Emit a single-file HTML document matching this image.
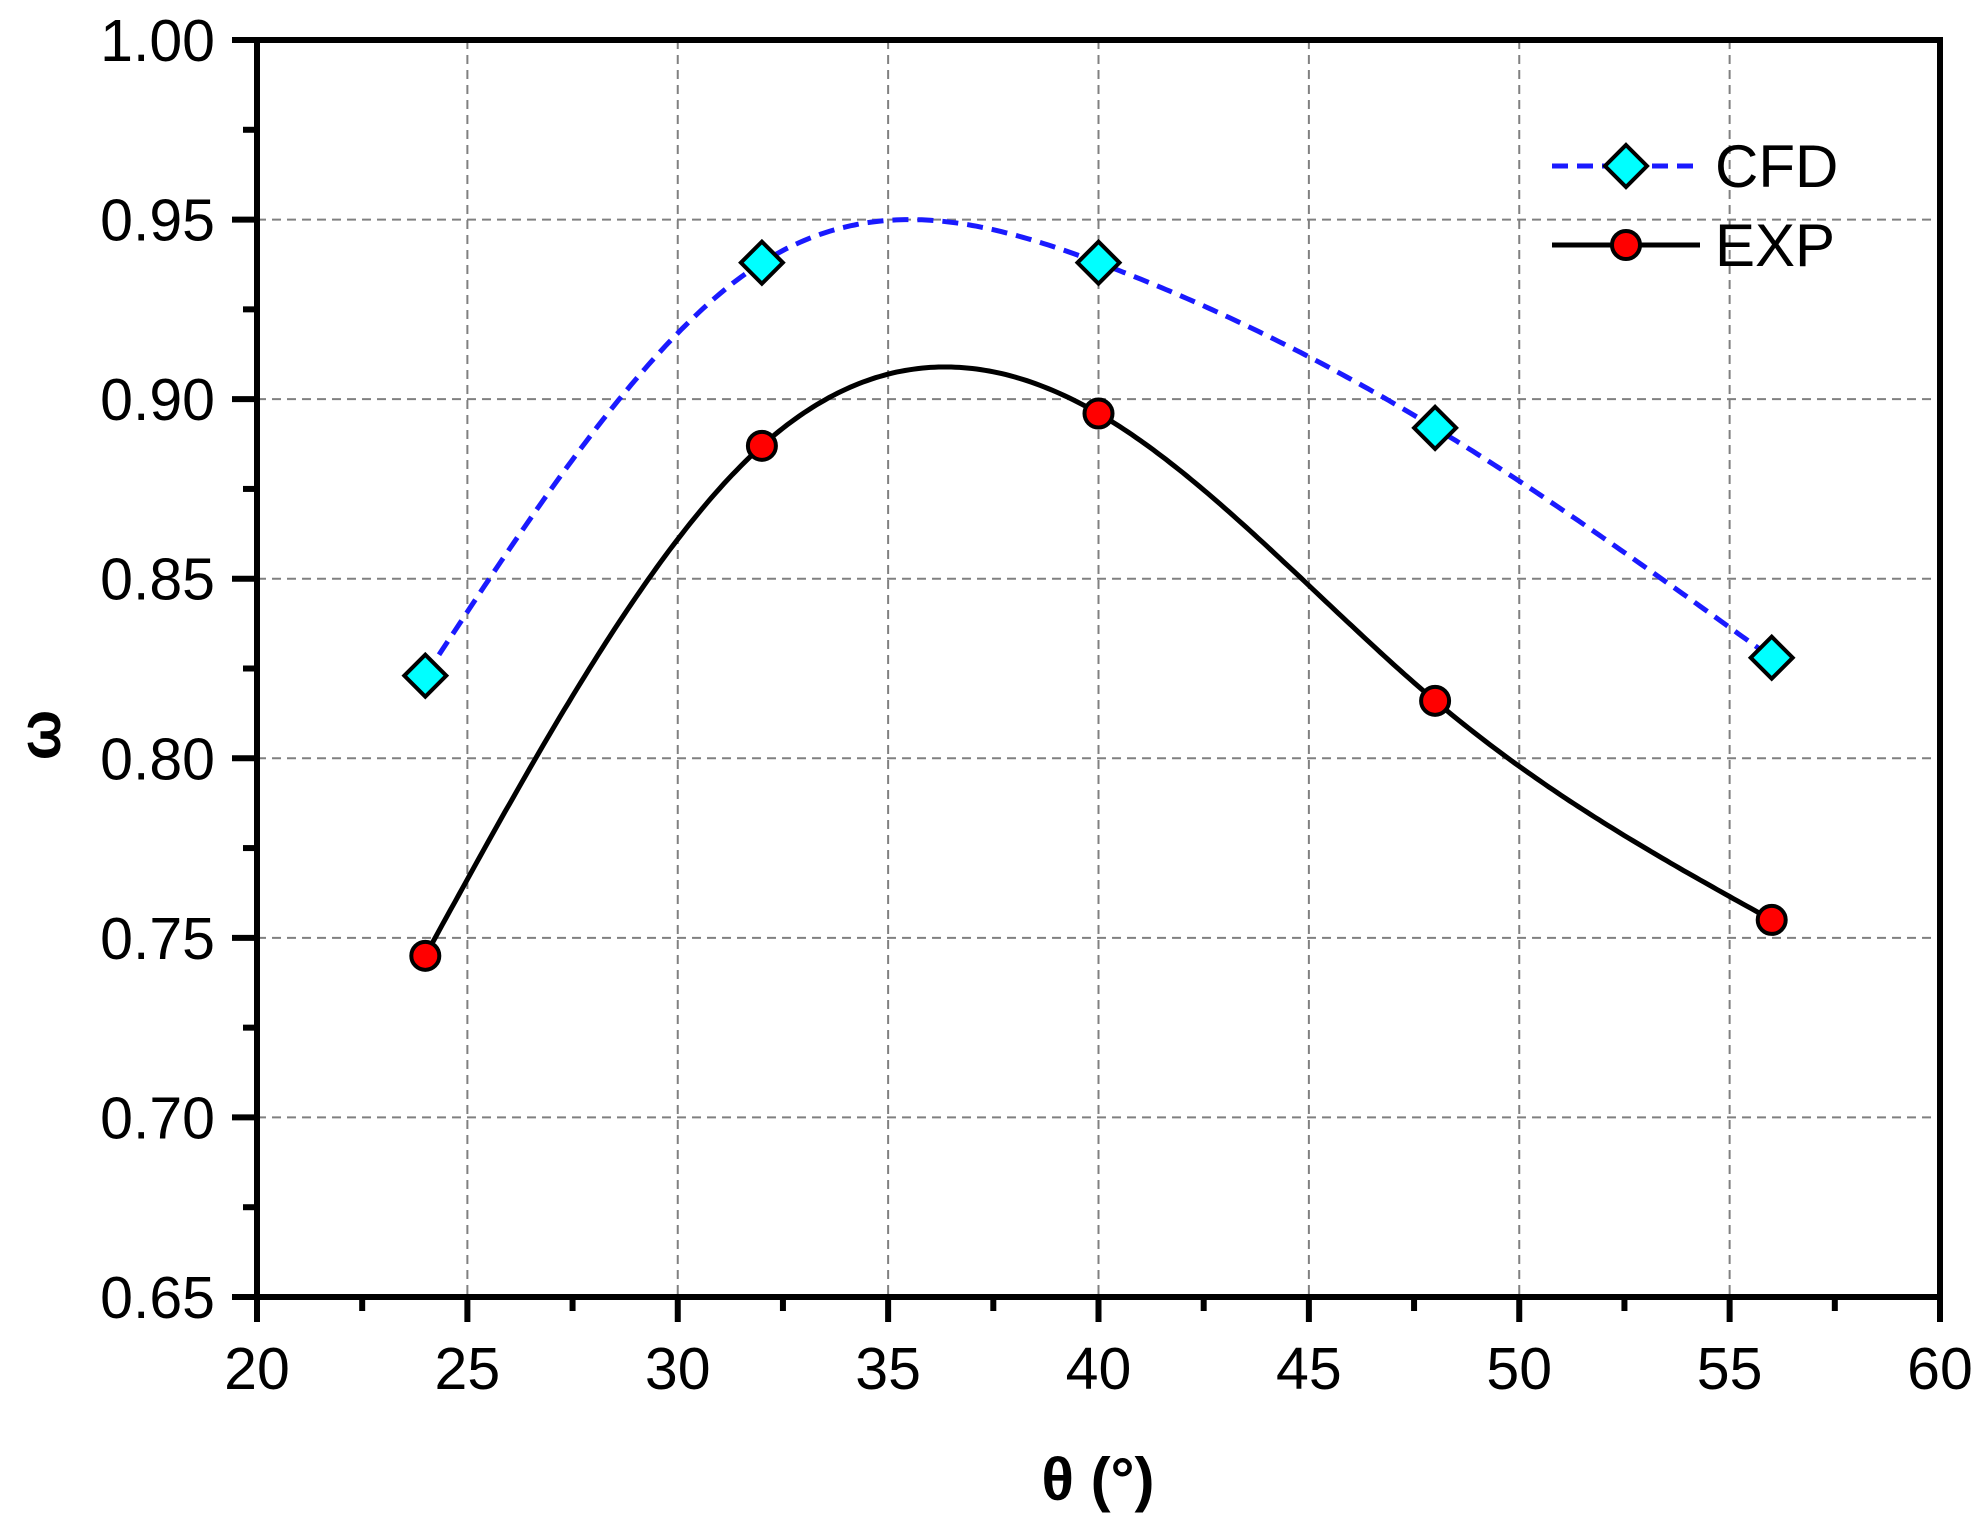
<!DOCTYPE html>
<html><head><meta charset="utf-8"><style>
html,body{margin:0;padding:0;background:#fff;}
svg{display:block;font-family:"Liberation Sans",sans-serif;}
</style></head><body>
<svg id="s" width="1987" height="1526" viewBox="0 0 1987 1526" xmlns="http://www.w3.org/2000/svg">
<g id="grid" stroke="#808080" stroke-width="2" stroke-dasharray="9,6" fill="none"></g>
<g id="curves"></g>
<g id="axes" stroke="#000" stroke-width="6" fill="none"></g>
<g id="labels" font-size="59" fill="#000"></g>
<g id="marks"></g>
<text x="1098" y="1500" font-size="60" font-weight="bold" text-anchor="middle">θ (°)</text>
<text transform="translate(60,735) rotate(-90)" font-size="60" font-weight="bold" text-anchor="middle">ω</text>
<line x1="1552" y1="166" x2="1700" y2="166" stroke="#1a1aff" stroke-width="5" stroke-dasharray="16,9"/>
<polygon points="1626,145 1647,166 1626,187 1605,166" fill="#00ffff" stroke="#000" stroke-width="4"/>
<text x="1715" y="187" font-size="60">CFD</text>
<line x1="1552" y1="245" x2="1700" y2="245" stroke="#000" stroke-width="5"/>
<circle cx="1626" cy="245" r="14" fill="#ff0000" stroke="#000" stroke-width="4"/>
<text x="1715" y="266" font-size="60">EXP</text>
</svg>
<script>
var NS="http://www.w3.org/2000/svg";
function X(v){return 257+(v-20)*(1683/40);}
function Y(v){return 40+(1-v)*(1257/0.35);}
function el(p,t,a){var e=document.createElementNS(NS,t);for(var k in a)e.setAttribute(k,a[k]);document.getElementById(p).appendChild(e);return e;}
for(var i=1;i<7;i++){var y=Y(1-0.05*i);el("grid","line",{x1:257,x2:1940,y1:y,y2:y});}
for(var i=1;i<8;i++){var x=X(20+5*i);el("grid","line",{x1:x,x2:x,y1:40,y2:1297});}
el("axes","rect",{x:257,y:40,width:1683,height:1257});
for(var i=0;i<=14;i++){var y=Y(1-0.025*i);var L=i%2?14:25;el("axes","line",{x1:257-L,x2:257,y1:y,y2:y});
 if(i%2==0){var t=el("labels","text",{x:215,y:y+21,"text-anchor":"end"});t.textContent=(1-0.025*i).toFixed(2);}}
for(var i=0;i<=16;i++){var x=X(20+2.5*i);var L=i%2?14:25;el("axes","line",{x1:x,x2:x,y1:1297,y2:1297+L});
 if(i%2==0){var t=el("labels","text",{x:x,y:1389,"text-anchor":"middle"});t.textContent=20+2.5*i;}}
function spline(xs,ys){var n=xs.length,h=[],a=[],l=[1],mu=[0],z=[0],c=new Array(n).fill(0),b=[],d=[];
 for(var i=0;i<n-1;i++)h[i]=xs[i+1]-xs[i];
 for(var i=1;i<n-1;i++)a[i]=3/h[i]*(ys[i+1]-ys[i])-3/h[i-1]*(ys[i]-ys[i-1]);
 for(var i=1;i<n-1;i++){l[i]=2*(xs[i+1]-xs[i-1])-h[i-1]*mu[i-1];mu[i]=h[i]/l[i];z[i]=(a[i]-h[i-1]*z[i-1])/l[i];}
 l[n-1]=1;z[n-1]=0;
 for(var j=n-2;j>=0;j--){c[j]=z[j]-mu[j]*c[j+1];b[j]=(ys[j+1]-ys[j])/h[j]-h[j]*(c[j+1]+2*c[j])/3;d[j]=(c[j+1]-c[j])/(3*h[j]);}
 var p="";for(var xv=xs[0];xv<=xs[n-1]+1e-9;xv+=0.1){var j=Math.min(n-2,Math.floor((xv-xs[0])/8));var dx=xv-xs[j];
 var yv=ys[j]+b[j]*dx+c[j]*dx*dx+d[j]*dx*dx*dx;p+=(p?"L":"M")+X(xv).toFixed(1)+","+Y(yv).toFixed(1);}return p;}
var xs=[24,32,40,48,56],cfd=[0.823,0.938,0.938,0.892,0.828],exp=[0.745,0.887,0.896,0.816,0.755];
el("curves","path",{d:spline(xs,cfd),stroke:"#1a1aff","stroke-width":5,"stroke-dasharray":"16,9",fill:"none"});
el("curves","path",{d:spline(xs,exp),stroke:"#000","stroke-width":5,fill:"none"});
for(var i=0;i<5;i++){var x=X(xs[i]),y=Y(cfd[i]);
 el("marks","polygon",{points:x+","+(y-21)+" "+(x+21)+","+y+" "+x+","+(y+21)+" "+(x-21)+","+y,fill:"#00ffff",stroke:"#000","stroke-width":4});
 el("marks","circle",{cx:x,cy:Y(exp[i]),r:14,fill:"#ff0000",stroke:"#000","stroke-width":4});}
</script>
</body></html>
